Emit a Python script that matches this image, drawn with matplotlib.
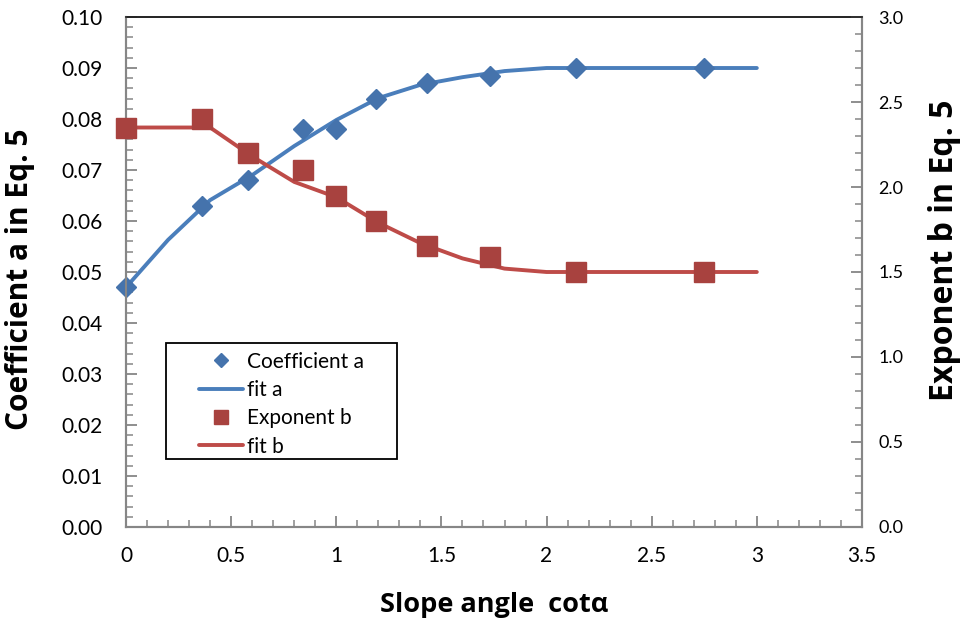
import matplotlib
matplotlib.use("Agg")
import matplotlib.pyplot as plt
from matplotlib.ticker import MultipleLocator, FormatStrFormatter
from matplotlib.patches import Rectangle

plt.rcParams['font.family'] = ['Lato', 'DejaVu Sans']

# measured points
cot = [0.0, 0.36, 0.58, 0.84, 1.0, 1.19, 1.43, 1.73, 2.14, 2.75]
coef_a = [0.047, 0.063, 0.068, 0.078, 0.078, 0.084, 0.087, 0.0885, 0.090, 0.090]
exp_b = [2.35, 2.40, 2.20, 2.10, 1.95, 1.80, 1.65, 1.59, 1.50, 1.50]

# fitted curves
fit_x = [0.0, 0.2, 0.4, 0.6, 0.8, 1.0, 1.2, 1.4, 1.6, 1.8, 2.0, 2.5, 3.0]
fit_a = [0.047, 0.0563, 0.0641, 0.0690, 0.0747, 0.0798, 0.0841, 0.0867, 0.0882, 0.0894, 0.0900, 0.0900, 0.0900]
fit_b = [2.35, 2.35, 2.35, 2.18, 2.03, 1.94, 1.79, 1.67, 1.58, 1.52, 1.50, 1.50, 1.50]

labels = ['Coefficient a', 'fit a', 'Exponent b', 'fit b']

blue_line = '#4A7EBB'
blue_mark = '#4573AC'
red_line = '#BE4B48'
red_mark = '#A8423F'
gray = '#868686'

fig = plt.figure(figsize=(9.62, 6.21), dpi=100)
ax = fig.add_axes([0.131, 0.1514, 0.765, 0.8212])
ax2 = ax.twinx()

l1, = ax.plot(cot, coef_a, linestyle='none', marker='D', ms=10.5,
              color=blue_mark, mec=blue_mark, clip_on=False, zorder=4)
l2, = ax.plot(fit_x, fit_a, color=blue_line, lw=2.8, solid_capstyle='round', zorder=3)
l3, = ax2.plot(cot, exp_b, linestyle='none', marker='s', ms=14,
               color=red_mark, mec=red_mark, clip_on=False, zorder=4)
l4, = ax2.plot(fit_x, fit_b, color=red_line, lw=2.8, solid_capstyle='round', zorder=3)

ax.set_xlim(0, 3.5)
ax.set_ylim(0, 0.10)
ax2.set_ylim(0, 3.0)

ax.xaxis.set_major_locator(MultipleLocator(0.5))
ax.xaxis.set_minor_locator(MultipleLocator(0.1))
ax.yaxis.set_major_locator(MultipleLocator(0.01))
ax.yaxis.set_minor_locator(MultipleLocator(0.002))
ax.yaxis.set_major_formatter(FormatStrFormatter('%.2f'))
ax2.yaxis.set_major_locator(MultipleLocator(0.5))
ax2.yaxis.set_minor_locator(MultipleLocator(0.1))
ax2.yaxis.set_major_formatter(FormatStrFormatter('%.1f'))
ax.xaxis.set_major_formatter(plt.FuncFormatter(lambda v, pos: '%g' % v))

for a in (ax, ax2):
    for s in a.spines.values():
        s.set_color(gray)
        s.set_linewidth(1.5)
    a.spines['top'].set_color('#222222')
    a.spines['top'].set_linewidth(1.2)

ax.tick_params(axis='both', which='major', direction='in', length=8, width=1.3,
               color=gray, labelsize=15)
ax.tick_params(axis='both', which='minor', direction='in', length=5, width=1.1, color=gray)
ax.tick_params(axis='x', which='major', pad=14)
ax.tick_params(axis='y', which='major', pad=17)
ax2.tick_params(axis='y', which='major', direction='in', length=8, width=1.3,
                color=gray, labelsize=13, pad=12)
ax2.tick_params(axis='y', which='minor', direction='in', length=5, width=1.1, color=gray)

lab_font = dict(family=['Open Sans', 'DejaVu Sans'], fontweight='bold')
ax.set_xlabel('Slope angle  cot\u03b1', fontsize=19.5, **lab_font)
ax.set_ylabel('Coefficient a in Eq. 5', fontsize=21.5, **lab_font)
ax2.set_ylabel('Exponent b in Eq. 5', fontsize=23, **lab_font)
ax.xaxis.set_label_coords(0.5, -0.153)
ax.xaxis.label.set_verticalalignment('center')
ax.yaxis.set_label_coords(-0.144, 0.486)
ax.yaxis.label.set_verticalalignment('center')
ax2.yaxis.set_label_coords(1.1128, 0.543)
ax2.yaxis.label.set_verticalalignment('center')

# legend box
box = Rectangle((0.0543, 0.1333), 0.3139, 0.2275, transform=ax2.transAxes,
                facecolor='white', edgecolor='black', lw=1.3, zorder=5)
ax2.add_patch(box)
leg = ax2.legend([l1, l2, l3, l4], labels, loc='upper left',
                 bbox_to_anchor=(0.0856, 0.364), fontsize=15, frameon=False,
                 handlelength=2.1, handletextpad=0.2, borderpad=0,
                 labelspacing=0.40, markerscale=0.7)
leg.set_zorder(6)

fig.savefig('out.png', dpi=100)
